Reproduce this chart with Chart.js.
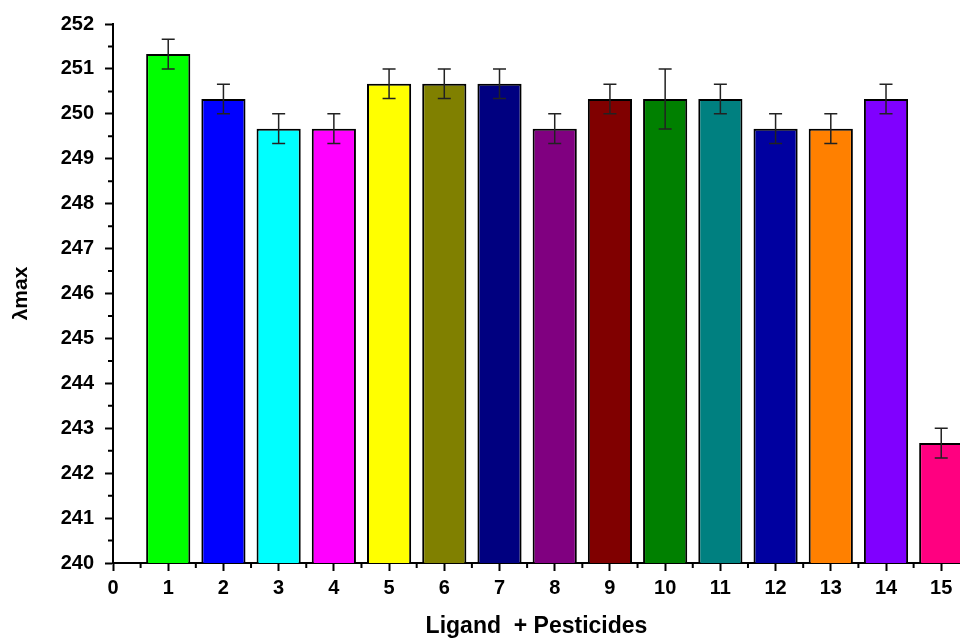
<!DOCTYPE html>
<html>
<head>
<meta charset="utf-8">
<script src="https://cdn.jsdelivr.net/npm/chart.js@4/dist/chart.umd.min.js"></script>
<style>
  body { margin: 0; background: #fff; }
  #wrap { width: 960px; height: 640px; }
</style>
</head>
<body>
<div id="wrap"><canvas id="chart" width="960" height="640"></canvas></div>
<script>
// sample number on the x axis (ligand + pesticide combination)
const positions = [1, 2, 3, 4, 5, 6, 7, 8, 9, 10, 11, 12, 13, 14, 15];
const lambdaMax = [251.33, 250.33, 249.67, 249.67, 250.67, 250.67, 250.67, 249.67,
                   250.33, 250.33, 250.33, 249.67, 249.67, 250.33, 242.67];
const errors = [0.33, 0.33, 0.33, 0.33, 0.33, 0.33, 0.33, 0.33,
                0.33, 0.67, 0.33, 0.33, 0.33, 0.33, 0.33];
const barColors = ["#00ff00", "#0000ff", "#00ffff", "#ff00ff", "#ffff00", "#808000",
                   "#000080", "#800080", "#800000", "#008000", "#008080", "#0000a0",
                   "#ff8000", "#8000ff", "#ff0080"];

const FONT = "'Liberation Sans', Arial, sans-serif";

// error bars drawn on top of the bars
const errorBars = {
  id: "errorBars",
  afterDatasetsDraw(chart) {
    const { ctx, scales: { x, y } } = chart;
    ctx.save();
    ctx.strokeStyle = "#222";
    ctx.lineWidth = 1.5;
    positions.forEach((p, i) => {
      const px = x.getPixelForValue(p);
      const top = y.getPixelForValue(lambdaMax[i] + errors[i]);
      const bot = y.getPixelForValue(lambdaMax[i] - errors[i]);
      ctx.beginPath();
      ctx.moveTo(px, top); ctx.lineTo(px, bot);
      ctx.moveTo(px - 6.5, top); ctx.lineTo(px + 6.5, top);
      ctx.moveTo(px - 6.5, bot); ctx.lineTo(px + 6.5, bot);
      ctx.stroke();
    });
    ctx.restore();
  }
};

// half-step minor ticks, outside the axes
const minorTicks = {
  id: "minorTicks",
  afterDraw(chart) {
    const { ctx, chartArea, scales: { x, y } } = chart;
    ctx.save();
    ctx.strokeStyle = "#000";
    ctx.lineWidth = 2;
    ctx.beginPath();
    for (let v = 240.5; v < 252; v += 1) {
      const py = y.getPixelForValue(v);
      ctx.moveTo(chartArea.left - 5, py); ctx.lineTo(chartArea.left, py);
    }
    for (let v = 0.5; v < 15.3; v += 1) {
      const px = x.getPixelForValue(v);
      ctx.moveTo(px, chartArea.bottom); ctx.lineTo(px, chartArea.bottom + 5);
    }
    ctx.stroke();
    ctx.restore();
  }
};

new Chart(document.getElementById("chart"), {
  type: "bar",
  data: {
    datasets: [{
      data: positions.map((p, i) => ({ x: p, y: lambdaMax[i] })),
      backgroundColor: barColors,
      borderColor: "#000",
      borderWidth: 2,
      borderSkipped: false,
      barPercentage: 0.8,
      categoryPercentage: 1
    }]
  },
  options: {
    responsive: false,
    animation: false,
    layout: { padding: { top: 24, right: 0, left: 0, bottom: 0 } },
    plugins: {
      legend: { display: false },
      tooltip: { enabled: false }
    },
    scales: {
      x: {
        type: "linear",
        offset: false,
        min: 0,
        max: 15.34,
        grid: { drawOnChartArea: false, offset: false, tickLength: 8, tickColor: "#000", tickWidth: 2 },
        border: { color: "#000", width: 2 },
        ticks: {
          stepSize: 1,
          includeBounds: false,
          color: "#000",
          padding: 5,
          font: { family: FONT, size: 20, weight: "bold" }
        },
        title: {
          display: true,
          text: "Ligand  + Pesticides",
          color: "#000",
          padding: { top: 12, bottom: 0 },
          font: { family: FONT, size: 23, weight: "bold" }
        },
        afterFit(scale) { scale.height = 77; }
      },
      y: {
        min: 240,
        max: 252,
        grid: { drawOnChartArea: false, tickLength: 8, tickColor: "#000", tickWidth: 2 },
        border: { color: "#000", width: 2 },
        ticks: {
          stepSize: 1,
          color: "#000",
          padding: 11,
          font: { family: FONT, size: 20, weight: "bold" }
        },
        title: {
          display: true,
          text: "λmax",
          color: "#000",
          padding: { top: 9, bottom: 14 },
          font: { family: FONT, size: 21, weight: "bold" }
        },
        afterFit(scale) { scale.width = 113; }
      }
    }
  },
  plugins: [errorBars, minorTicks]
});
</script>
</body>
</html>
